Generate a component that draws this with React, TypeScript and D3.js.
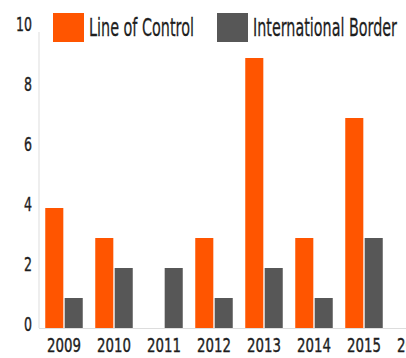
import React from "react";
import * as d3 from "d3";

const years = ["2009", "2010", "2011", "2012", "2013", "2014", "2015", "2016"];
const lineOfControl = [4, 3, 0, 3, 9, 3, 7, 0];
const internationalBorder = [1, 2, 2, 1, 2, 1, 3, 0];
const seriesNames = ["Line of Control", "International Border"];
const seriesColors = ["#ff5500", "#575757"];
const yTicks = [0, 2, 4, 6, 8, 10];

const W = 406;
const H = 358;
const FONT = "'Liberation Sans Narrow', 'DejaVu Sans', sans-serif";
const TXT = "#1e1e1e";

export default function App() {
  const x = d3
    .scaleBand<string>()
    .domain(years)
    .range([39, 439])
    .paddingInner(0.25)
    .paddingOuter(0.125);
  const sub = d3
    .scaleBand<number>()
    .domain([0, 1])
    .range([0, x.bandwidth()])
    .paddingInner(0.07);
  const y = d3.scaleLinear().domain([0, 10]).range([328, 28]);
  const series = [lineOfControl, internationalBorder];

  return (
    <svg
      width={W}
      height={H}
      style={{ position: "absolute", left: 0, top: 0, background: "#fff" }}
      fontFamily={FONT}
    >
      <rect width={W} height={H} fill="#fff" />
      <line x1={39} x2={39} y1={32} y2={328} stroke="#dddddd" strokeWidth={1} />
      <line x1={39} x2={W} y1={328.5} y2={328.5} stroke="#dddddd" strokeWidth={1} />
      {series.map((vals, si) =>
        vals.map((v, i) => (
          <rect
            key={`${si}-${i}`}
            x={(x(years[i]) as number) + (sub(si) as number)}
            y={y(v)}
            width={sub.bandwidth()}
            height={y(0) - y(v)}
            fill={seriesColors[si]}
          />
        ))
      )}
      {yTicks.map((t) => (
        <text
          key={t}
          x={32}
          y={y(t) + 3}
          textAnchor="end"
          fontSize={19}
          fill={TXT}
          stroke={TXT}
          strokeWidth={0.4}
          textLength={String(t).length * 8}
          lengthAdjust="spacingAndGlyphs"
        >
          {t}
        </text>
      ))}
      {years.map((yr) => (
        <text
          key={yr}
          x={(x(yr) as number) + x.bandwidth() / 2}
          y={352}
          textAnchor="middle"
          fontSize={19}
          fill={TXT}
          stroke={TXT}
          strokeWidth={0.4}
          textLength={34}
          lengthAdjust="spacingAndGlyphs"
        >
          {yr}
        </text>
      ))}
      {seriesNames.map((name, i) => {
        const lx = i === 0 ? 53 : 217;
        const len = i === 0 ? 105 : 144;
        return (
          <g key={name}>
            <rect x={lx} y={13} width={31} height={29} fill={seriesColors[i]} />
            <text
              x={lx + 36}
              y={36}
              fontSize={24}
              fill={TXT}
              stroke={TXT}
              strokeWidth={0.3}
              textLength={len}
              lengthAdjust="spacingAndGlyphs"
            >
              {name}
            </text>
          </g>
        );
      })}
    </svg>
  );
}
